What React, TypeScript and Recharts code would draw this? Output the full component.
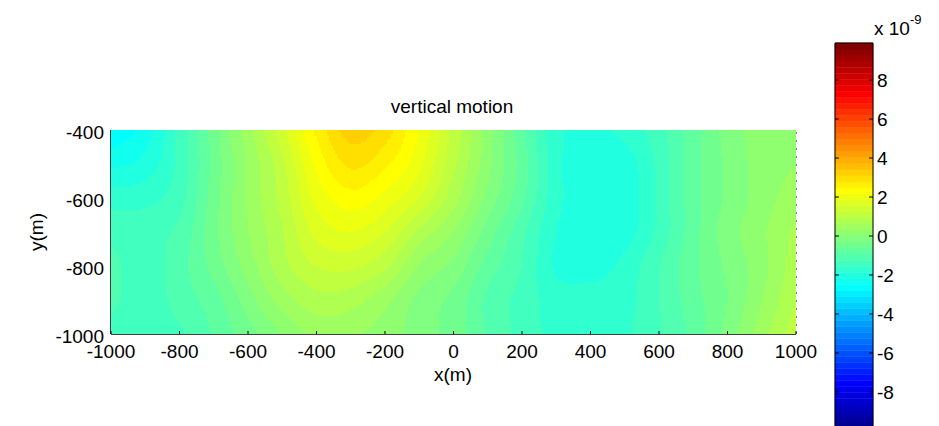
import React from "react";
import {
  ScatterChart, Scatter, XAxis, YAxis, ReferenceLine, ComposedChart, ReferenceArea,
} from "recharts";

// grid nodes (m)
const xNodes = [-1000, -900, -800, -700, -600, -500, -400, -300, -200, -100, 0, 100, 200, 300, 400, 500, 600, 700, 800, 900, 1000];
const yNodes = [-400, -500, -600, -700, -800, -900, -1000];

// vertical motion at each node, x 1e-9, one list per depth row
const w400 = [-2.75, -2.35, -1.45, -0.45, 0.5, 1.45, 2.55, 3.25, 2.95, 2.15, 1.15, 0.15, -0.85, -1.75, -1.9, -1.75, -1.35, -0.75, -0.2, 0.15, 0.15];
const w500 = [-2.25, -2.05, -1.45, -0.5, 0.35, 1.15, 2.25, 2.85, 2.55, 1.95, 1.0, 0.1, -0.75, -1.75, -2.05, -2.0, -1.45, -0.75, -0.25, 0.15, 0.3];
const w600 = [-1.7, -1.65, -1.35, -0.45, 0.35, 1.05, 1.95, 2.35, 2.05, 1.55, 0.75, -0.1, -0.85, -1.75, -2.05, -2.05, -1.45, -0.75, -0.25, 0.15, 0.5];
const w700 = [-1.35, -1.35, -1.15, -0.4, 0.3, 0.9, 1.65, 1.85, 1.55, 0.85, 0.3, -0.45, -1.15, -1.85, -2.05, -2.0, -1.45, -0.75, -0.15, 0.25, 0.7];
const w800 = [-1.15, -1.4, -1.05, -0.5, 0.15, 0.8, 1.25, 1.3, 1.0, 0.3, -0.1, -0.75, -1.25, -1.9, -2.0, -1.75, -1.25, -0.7, -0.25, 0.2, 0.8];
const w900 = [-1.15, -1.45, -1.1, -0.75, -0.15, 0.45, 0.8, 0.75, 0.4, -0.1, -0.4, -1.0, -1.35, -1.7, -1.7, -1.65, -1.25, -0.75, -0.3, 0.3, 0.95];
const w1000 = [-1.45, -1.45, -1.3, -0.9, -0.45, 0.0, 0.4, 0.35, 0.15, -0.15, -0.45, -0.95, -1.35, -1.65, -1.7, -1.6, -1.25, -0.85, -0.2, 0.5, 1.1];
const rows = [w400, w500, w600, w700, w800, w900, w1000];

const xTicks = [-1000, -800, -600, -400, -200, 0, 200, 400, 600, 800, 1000];
const yTicks = [-1000, -800, -600, -400];
const cbTicks = [-8, -6, -4, -2, 0, 2, 4, 6, 8];
const C_MIN = -9.9;
const C_MAX = 9.9;

const FONT = '"Liberation Sans", Arial, sans-serif';
const FS = 19;

// main plot geometry
const MAIN_W = 830;
const MAIN_H = 400;
const MAIN_MARGIN = { top: 130, right: 34, bottom: 16, left: 41 };
const Y_AXIS_W = 70;
const X_AXIS_H = 50;
const PLOT_W = MAIN_W - MAIN_MARGIN.left - MAIN_MARGIN.right - Y_AXIS_W;
const PLOT_H = MAIN_H - MAIN_MARGIN.top - MAIN_MARGIN.bottom - X_AXIS_H;
const CELL_W = PLOT_W / (xNodes.length - 1);
const CELL_H = PLOT_H / (yNodes.length - 1);
const SUB = 17;

// colorbar geometry
const CB_LEFT = 835;
const CB_W = 38;
const CB_TOP = 43;
const CB_H = 386;

// matlab jet(64)
const N_COLORS = 64;
const uAt = (k: number) => (k < 1 || k > 47 ? 0 : k <= 16 ? k / 16 : k <= 31 ? 1 : (48 - k) / 16);
const jet = (i: number) => {
  const n = i + 1;
  const c = (f: number) => Math.round(f * 255);
  return `rgb(${c(uAt(n - 24))},${c(uAt(n - 8))},${c(uAt(n + 8))})`;
};
const palette = Array.from({ length: N_COLORS }, (_, i) => jet(i));
const colorOf = (v: number) => {
  let k = Math.floor(((v - C_MIN) / (C_MAX - C_MIN)) * N_COLORS);
  if (k < 0) k = 0;
  if (k > N_COLORS - 1) k = N_COLORS - 1;
  return palette[k];
};

// node value with linear extension past the edges
const nodeValue = (i: number, j: number): number => {
  const ni = xNodes.length;
  const nj = yNodes.length;
  if (j < 0) return 2 * nodeValue(i, 0) - nodeValue(i, 1);
  if (j >= nj) return 2 * nodeValue(i, nj - 1) - nodeValue(i, nj - 2);
  if (i < 0) return 2 * rows[j][0] - rows[j][1];
  if (i >= ni) return 2 * rows[j][ni - 1] - rows[j][ni - 2];
  return rows[j][i];
};

const cubic = (p0: number, p1: number, p2: number, p3: number, t: number) =>
  0.5 * (2 * p1 + (-p0 + p2) * t + (2 * p0 - 5 * p1 + 4 * p2 - p3) * t * t
    + (-p0 + 3 * p1 - 3 * p2 + p3) * t * t * t);

const nodes = yNodes.flatMap((y, j) => xNodes.map((x, i) => ({ x, y, i, j })));

// each node fills the patch down-right of it, shaded smoothly from the surrounding nodes
const FieldPatch = (props: any) => {
  const { cx, cy, payload } = props;
  const { i, j } = payload;
  if (i >= xNodes.length - 1 || j >= yNodes.length - 1) return <g />;
  const g: number[][] = [];
  for (let dj = -1; dj <= 2; dj++) {
    const r: number[] = [];
    for (let di = -1; di <= 2; di++) r.push(nodeValue(i + di, j + dj));
    g.push(r);
  }
  const sw = CELL_W / SUB;
  const sh = CELL_H / SUB;
  const rects: React.ReactElement[] = [];
  for (let b = 0; b < SUB; b++) {
    const t = (b + 0.5) / SUB;
    let start = 0;
    let runColor: string | null = null;
    for (let a = 0; a <= SUB; a++) {
      let color: string | null = null;
      if (a < SUB) {
        const s = (a + 0.5) / SUB;
        const col = g.map((r) => cubic(r[0], r[1], r[2], r[3], s));
        color = colorOf(cubic(col[0], col[1], col[2], col[3], t));
      }
      if (color !== runColor) {
        if (runColor) {
          rects.push(
            <rect key={`${b}-${start}`} x={cx + start * sw} y={cy + b * sh}
              width={(a - start) * sw + 0.5} height={sh + 0.5} fill={runColor} />
          );
        }
        start = a;
        runColor = color;
      }
    }
  }
  return <g shapeRendering="crispEdges">{rects}</g>;
};

const XTick = (props: any) => {
  const { x, y, payload } = props;
  return (
    <g>
      <line x1={x} x2={x} y1={y} y2={y - 3} stroke="#000" />
      <text x={x} y={y + 24} textAnchor="middle" fontFamily={FONT} fontSize={FS} fill="#000">
        {payload.value}
      </text>
    </g>
  );
};

const YTick = (props: any) => {
  const { x, y, payload } = props;
  return (
    <text x={x - 7} y={y + 9} textAnchor="end" fontFamily={FONT} fontSize={FS} fill="#000">
      {payload.value}
    </text>
  );
};

const CbTick = (props: any) => {
  const { x, y, payload } = props;
  return (
    <g>
      <line x1={x} x2={x - 4} y1={y} y2={y} stroke="#000" />
      <line x1={x - CB_W} x2={x - CB_W + 4} y1={y} y2={y} stroke="#000" />
      <text x={x + 4} y={y + 7} textAnchor="start" fontFamily={FONT} fontSize={FS} fill="#000">
        {payload.value}
      </text>
    </g>
  );
};

const levels = palette.map((fill, k) => ({
  y1: C_MIN + (k * (C_MAX - C_MIN)) / N_COLORS,
  y2: C_MIN + ((k + 1) * (C_MAX - C_MIN)) / N_COLORS,
  fill,
}));

export default function App() {
  return (
    <div style={{
      position: "fixed", left: 0, top: 0, width: 939, height: 426,
      overflow: "hidden", background: "#fff", fontFamily: FONT, color: "#000",
    }}>
      <div style={{ position: "absolute", left: 0, top: 0 }}>
        <ScatterChart width={MAIN_W} height={MAIN_H} margin={MAIN_MARGIN}>
          <XAxis type="number" dataKey="x" domain={[-1000, 1000]} ticks={xTicks} interval={0}
            height={X_AXIS_H} tickSize={0} tickMargin={0} tick={<XTick />}
            axisLine={{ stroke: "#000" }} tickLine={false} allowDataOverflow />
          <YAxis type="number" dataKey="y" domain={[-1000, -400]} ticks={yTicks} interval={0}
            width={Y_AXIS_W} tickSize={0} tickMargin={0} tick={<YTick />}
            axisLine={{ stroke: "#000" }} tickLine={false} allowDataOverflow />
          <Scatter data={nodes} shape={<FieldPatch />} isAnimationActive={false} />
          <ReferenceLine x={-1000} stroke="#000" />
          <ReferenceLine y={-1000} stroke="#000" />
          <ReferenceLine x={1000} stroke="#000" strokeDasharray="2 6" />
        </ScatterChart>
      </div>

      <div style={{ position: "absolute", left: 0, top: 0 }}>
        <ComposedChart width={939} height={CB_TOP + CB_H + 71} data={[{ x: 0 }, { x: 1 }]}
          margin={{ top: CB_TOP, right: 939 - CB_LEFT - CB_W - 40, bottom: 71, left: CB_LEFT }}>
          <XAxis type="number" dataKey="x" domain={[0, 1]} hide />
          <YAxis type="number" orientation="right" domain={[C_MIN, C_MAX]} ticks={cbTicks}
            interval={0} width={40} tickSize={0} tickMargin={0} tick={<CbTick />}
            axisLine={false} tickLine={false} allowDataOverflow />
          {levels.map((l, k) => (
            <ReferenceArea key={k} y1={l.y1} y2={l.y2} fill={l.fill} fillOpacity={1}
              stroke={l.fill} strokeWidth={0.5} />
          ))}
          <ReferenceArea y1={C_MIN} y2={C_MAX} fill="none" stroke="#000" />
        </ComposedChart>
      </div>

      <div style={{
        position: "absolute", left: 352, width: 200, top: 95, textAlign: "center",
        fontSize: FS, lineHeight: "24px",
      }}>vertical motion</div>
      <div style={{
        position: "absolute", left: 403, width: 100, top: 363, textAlign: "center",
        fontSize: FS, lineHeight: "24px",
      }}>x(m)</div>
      <div style={{
        position: "absolute", left: -13, width: 100, top: 220, textAlign: "center",
        fontSize: FS, lineHeight: "24px", transform: "rotate(-90deg)",
      }}>y(m)</div>
      <div style={{ position: "absolute", left: 874, top: 12, fontSize: FS, lineHeight: "24px" }}>
        x 10<sup style={{ fontSize: 13, position: "relative", top: -4 }}>-9</sup>
      </div>
    </div>
  );
}
